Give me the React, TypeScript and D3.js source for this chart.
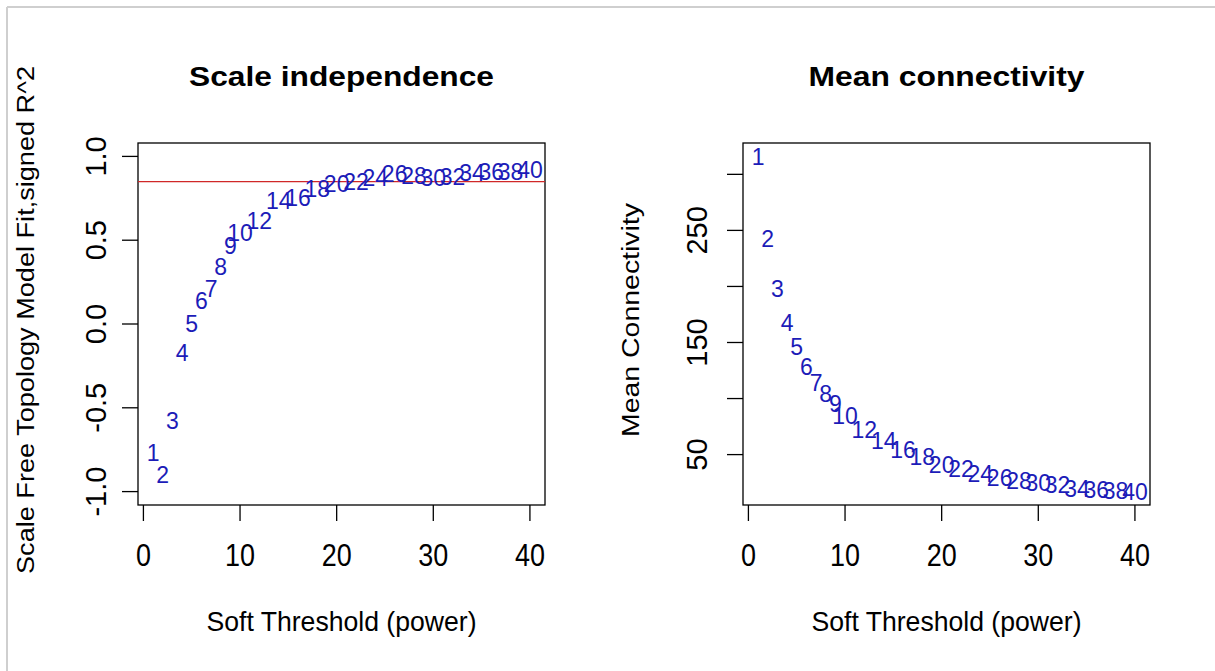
import React from 'react';
import * as d3 from 'd3';

// ---- data ----
const powers = [1, 2, 3, 4, 5, 6, 7, 8, 9, 10, 12, 14, 16, 18, 20, 22, 24, 26, 28, 30, 32, 34, 36, 38, 40];
const signedR2 = [-0.77, -0.9, -0.58, -0.17, 0.0, 0.14, 0.21, 0.34, 0.47, 0.545, 0.615, 0.735, 0.755, 0.81, 0.835, 0.85, 0.874, 0.895, 0.886, 0.874, 0.88, 0.9, 0.911, 0.911, 0.919];
const meanConnectivity = [316, 243, 198, 168, 146, 128, 114, 104, 95, 85, 72, 62, 54, 48, 41, 37, 33, 29, 27, 25, 23, 20, 19, 18, 17];
const xTicks = [0, 10, 20, 30, 40];
const r2Ticks = [-1, -0.5, 0, 0.5, 1];
const r2TickLabels = ['-1.0', '-0.5', '0.0', '0.5', '1.0'];
const kTicks = [50, 100, 150, 200, 250, 300];
const kTickLabels = ['50', '', '150', '', '250', ''];
const r2Cutoff = 0.85;
const r2Limits = [-1, 1];

const FONT = '"Liberation Sans", Arial, Helvetica, sans-serif';
const LABEL_COLOR = '#1c1cb8';

function ext4(lo: number, hi: number): [number, number] {
  const d = (hi - lo) * 0.04;
  return [lo - d, hi + d];
}

type PanelProps = {
  x0: number;
  x1: number;
  title: string;
  titleLen: number;
  ylab: string;
  ylabLen: number;
  ylabX: number;
  yTickLabelX: number;
  values: number[];
  yDomain: [number, number];
  yTicks: number[];
  yTickLabels: string[];
  hline?: number;
};

const Y0 = 143;
const Y1 = 505;

function Panel(p: PanelProps) {
  const x = d3.scaleLinear().domain(ext4(d3.min(powers)!, d3.max(powers)!)).range([p.x0, p.x1]);
  const y = d3.scaleLinear().domain(p.yDomain).range([Y1, Y0]);
  const cx = (p.x0 + p.x1) / 2;
  const cy = 320;
  return (
    <g>
      <rect x={p.x0} y={Y0} width={p.x1 - p.x0} height={Y1 - Y0} fill="none" stroke="#000" strokeWidth={1.3} />
      {p.hline !== undefined && (
        <line x1={p.x0} x2={p.x1} y1={y(p.hline)} y2={y(p.hline)} stroke="#d02828" strokeWidth={1.2} />
      )}
      {xTicks.map((t) => (
        <g key={'xt' + t}>
          <line x1={x(t)} x2={x(t)} y1={Y1} y2={Y1 + 16} stroke="#000" strokeWidth={1.3} />
          <text
            transform={`translate(${x(t)},566) scale(0.93,1.06)`}
            textAnchor="middle"
            fontSize={29}
            fontFamily={FONT}
            fill="#000"
          >
            {t}
          </text>
        </g>
      ))}
      {p.yTicks.map((t, i) => (
        <g key={'yt' + t}>
          <line x1={p.x0 - 16} x2={p.x0} y1={y(t)} y2={y(t)} stroke="#000" strokeWidth={1.3} />
          {p.yTickLabels[i] && (
            <text
              transform={`translate(${p.yTickLabelX},${y(t)}) rotate(-90)`}
              textAnchor="middle"
              fontSize={29}
              fontFamily={FONT}
              fill="#000"
            >
              {p.yTickLabels[i]}
            </text>
          )}
        </g>
      ))}
      {powers.map((pw, i) => (
        <text
          key={'pt' + pw}
          x={x(pw)}
          y={y(p.values[i])}
          dy="0.36em"
          textAnchor="middle"
          fontSize={23}
          fontFamily={FONT}
          fill={LABEL_COLOR}
        >
          {pw}
        </text>
      ))}
      <text
        x={cx}
        y={86}
        textAnchor="middle"
        fontSize={28}
        fontWeight="bold"
        fontFamily={FONT}
        textLength={p.titleLen}
        lengthAdjust="spacingAndGlyphs"
        fill="#000"
      >
        {p.title}
      </text>
      <text
        x={cx}
        y={631}
        textAnchor="middle"
        fontSize={28}
        fontFamily={FONT}
        textLength={270}
        lengthAdjust="spacingAndGlyphs"
        fill="#000"
      >
        Soft Threshold (power)
      </text>
      <text
        transform={`translate(${p.ylabX},${cy}) rotate(-90)`}
        textAnchor="middle"
        fontSize={23}
        fontFamily={FONT}
        textLength={p.ylabLen}
        lengthAdjust="spacingAndGlyphs"
        fill="#000"
      >
        {p.ylab}
      </text>
    </g>
  );
}

export default function App() {
  const kDomain = ext4(d3.min(meanConnectivity)!, d3.max(meanConnectivity)!);
  const r2Domain = ext4(r2Limits[0], r2Limits[1]);
  return (
    <svg
      width={1215}
      height={671}
      style={{ position: 'absolute', left: 0, top: 0, background: '#fff' }}
    >
      <rect x={0} y={0} width={1215} height={671} fill="#fff" />
      <line x1={7} x2={1215} y1={7} y2={7} stroke="#cfcfcf" strokeWidth={2} />
      <line x1={7} x2={7} y1={7} y2={671} stroke="#cfcfcf" strokeWidth={2} />
      <Panel
        x0={138}
        x1={545}
        title="Scale independence"
        titleLen={305}
        ylab="Scale Free Topology Model Fit,signed R^2"
        ylabLen={508}
        ylabX={34}
        yTickLabelX={106}
        values={signedR2}
        yDomain={r2Domain}
        yTicks={r2Ticks}
        yTickLabels={r2TickLabels}
        hline={r2Cutoff}
      />
      <Panel
        x0={743}
        x1={1150}
        title="Mean connectivity"
        titleLen={276}
        ylab="Mean Connectivity"
        ylabLen={234}
        ylabX={639}
        yTickLabelX={707}
        values={meanConnectivity}
        yDomain={kDomain}
        yTicks={kTicks}
        yTickLabels={kTickLabels}
      />
    </svg>
  );
}
